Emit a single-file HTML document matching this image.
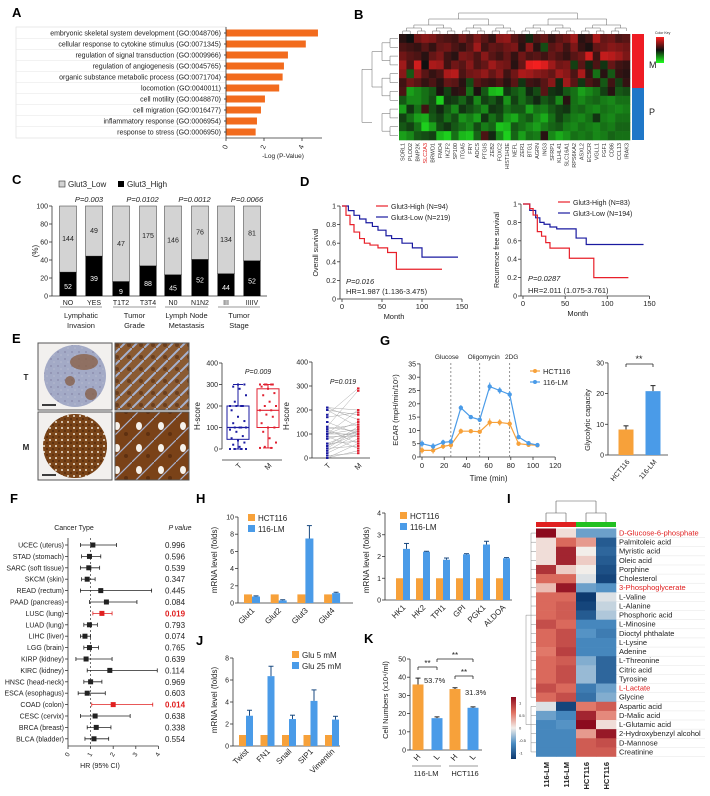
<!DOCTYPE html>
<html><head><meta charset="utf-8">
<style>
html,body{margin:0;padding:0;background:#fff;}
svg{display:block;font-family:"Liberation Sans",Arial,sans-serif;}
</style></head>
<body>
<svg id="fig" width="710" height="796" viewBox="0 0 710 796" xmlns="http://www.w3.org/2000/svg">
<defs>
<pattern id="spotsT" width="7" height="7" patternUnits="userSpaceOnUse"><rect width="7" height="7" fill="#a3aac6"/><circle cx="2" cy="2" r="1" fill="#8e90b0"/><circle cx="5" cy="5" r="0.8" fill="#b6bad0"/></pattern>
<pattern id="spotsM" width="6" height="6" patternUnits="userSpaceOnUse"><rect width="6" height="6" fill="#7a4418"/><circle cx="2" cy="2" r="1" fill="#efe6d8"/><circle cx="5" cy="5" r="1.2" fill="#5e3210"/></pattern>
<pattern id="zoomT" width="12" height="12" patternUnits="userSpaceOnUse"><rect width="12" height="12" fill="#8a5a32"/><path d="M0 12 L12 0" stroke="#a6b2d0" stroke-width="2"/><circle cx="9" cy="9" r="2" fill="#6a3e1e"/></pattern>
<pattern id="zoomM" width="22" height="22" patternUnits="userSpaceOnUse"><rect width="22" height="22" fill="#7a4218"/><path d="M0 22 L22 0" stroke="#a8b0cc" stroke-width="1.2"/><ellipse cx="7" cy="8" rx="3" ry="4" fill="#f6f2ec"/><circle cx="16" cy="16" r="2" fill="#5e3010"/></pattern>
<linearGradient id="keyB" x1="0" y1="1" x2="0" y2="0"><stop offset="0" stop-color="#20ff20"/><stop offset="0.5" stop-color="#101010"/><stop offset="1" stop-color="#ff2020"/></linearGradient>
<linearGradient id="keyI" x1="0" y1="1" x2="0" y2="0"><stop offset="0" stop-color="#0d3a70"/><stop offset="0.25" stop-color="#4a8cc2"/><stop offset="0.5" stop-color="#f2eeea"/><stop offset="0.75" stop-color="#e07060"/><stop offset="1" stop-color="#8c0a1e"/></linearGradient>
</defs>
<g font-weight="bold" font-size="13">
<text x="12" y="17">A</text>
<text x="354" y="19">B</text>
<text x="12" y="184">C</text>
<text x="300" y="186">D</text>
<text x="12" y="343">E</text>
<text x="380" y="345">G</text>
<text x="10" y="503">F</text>
<text x="196" y="503">H</text>
<text x="507" y="503">I</text>
<text x="196" y="645">J</text>
<text x="364" y="643">K</text>
</g>
</svg>
<script>
// ---------- data ----------
const goTerms=["embryonic skeletal system development (GO:0048706)","cellular response to cytokine stimulus (GO:0071345)","regulation of signal transduction (GO:0009966)","regulation of angiogenesis (GO:0045765)","organic substance metabolic process (GO:0071704)","locomotion (GO:0040011)","cell motility (GO:0048870)","cell migration (GO:0016477)","inflammatory response (GO:0006954)","response to stress (GO:0006950)"];
const goValues=[4.84,4.2,3.26,3.05,2.98,2.8,2.05,1.84,1.63,1.56];

const geneNames=["SORL1","PLOD2","BMP2K","SLC2A3","BRWD1","FMO4","IKZF2","SP100","ITGA5","FRY","ADCS","PTGIS","ZEB2","FOXC2","HIST1H3E","NEFL","ZER1","BTG1","AGRN","ING3","SFRP1","KLHL41","SLC16A1","RPS6KA2","ASXL2","ECSCR","VGLL1","FGF1","CD86","CCL13","IRAK3"];
const heatB=[
[0.2,0,0.8,1.0,0.9,0.6,0.5,0.4,0.8,0.5,0.9,0.6,0.3,1.0,1.1,0.6,0.3,-0.2,0.5,0.7,0.3,0.6,0.8,1.2,0.2,0.4,1.3,0.7,0.8,0.5,0.6],
[0.5,0.4,0.3,0.6,0.3,0.7,0.8,0.5,0.3,0.6,1.2,0.4,0.7,0.6,0.8,0.9,0.2,1.0,0.2,-0.5,0.6,0.8,0.4,0.9,0.3,0.1,0.7,0.8,1.0,0.9,0.8],
[0.8,0.6,0.5,0.2,0.7,0.9,0.4,0.2,0.9,0.8,0.5,1.0,0.6,0.4,0.7,0.3,0.8,0.5,0.6,0.4,0.7,0.5,0.3,0.6,0.8,1.6,0.4,1.5,1.4,1.2,0.9],
[1.2,0.5,1.6,0,1.3,1.2,0.4,0.8,0.6,1.0,0.5,0.7,1.2,0.9,0.8,0.2,0.7,1.8,1.9,1.7,1.2,0.8,0.9,-0.4,0.6,-0.2,0.5,-0.3,0.7,0.4,0.3],
[1.0,-0.6,1.1,0.6,0.3,0.5,1.3,1.4,0.5,0.8,0.9,1.1,0.7,1.0,0.4,0.8,1.3,1.2,1.0,0.9,0.7,1.2,1.0,0.5,1.3,0.3,-0.8,0.2,-0.6,0.3,0.2],
[0.4,0.8,0.6,0.3,0.5,0.2,0.7,0.6,0.2,-0.5,0.6,0.4,0.3,0.5,0.2,0.6,-0.3,0.4,0.3,0.6,1.0,-0.2,1.2,0.6,-0.3,0.5,0.3,-0.6,0.4,-0.4,0.3],
[0.5,-1.2,-1.0,-0.8,-0.6,0.1,-0.4,0.2,0.3,-0.8,0.1,-0.6,-1.4,-1.5,-0.3,-0.6,-0.8,-0.2,-0.5,0.6,-0.3,-0.2,-0.6,-0.8,-1.2,-1.0,-0.8,-0.4,0.2,-0.6,-0.5],
[-0.6,-1.0,-1.0,-0.8,-0.5,-1.6,-0.3,-0.4,-0.7,-0.3,-1.0,-0.4,-0.6,-0.3,-1.1,-0.4,-0.8,-0.5,-0.2,-0.6,-0.4,-1.0,0.2,-0.8,-1.0,-0.8,-0.7,-0.9,-1.0,-0.8,-0.8],
[-1.2,-0.3,-0.8,0.4,-0.5,-0.2,-0.6,-1.0,-0.3,-0.5,-0.7,-1.0,-0.3,-0.4,-0.8,-0.6,-0.6,-1.2,-0.8,-0.9,-0.6,-0.4,-0.3,-0.8,-0.7,-0.9,-1.0,-0.8,-0.9,-1.0,-0.9],
[-0.4,-0.8,-1.2,-1.3,-0.6,-0.4,-0.8,-0.5,-1.1,-0.9,-1.2,-0.3,-0.8,-0.5,-1.1,-1.3,-0.8,-0.6,-1.0,-1.3,-0.8,-0.4,-0.7,-0.9,-1.0,-0.8,-0.3,-0.9,-1.0,-0.8,-0.8],
[-0.6,-0.4,-0.8,-1.6,-1.2,-0.5,-0.3,-0.6,-0.8,-1.0,-0.5,-0.9,-0.7,-1.5,-1.4,-0.6,-0.8,-1.0,-1.2,-0.9,-0.7,-0.6,-0.9,-1.0,-0.8,-0.9,-1.0,-0.8,-0.9,-0.7,-0.7],
[-1.2,-1.0,-0.6,-0.5,-0.4,-1.4,-1.6,-0.8,-1.4,-1.5,-0.7,0.5,-0.2,-1.0,-1.6,-0.7,-1.2,-0.8,-0.9,0.2,-1.0,-1.3,-1.1,-0.8,-0.9,-0.8,-1.0,-0.9,-0.7,-0.8,-0.8]];

const cCats=["NO","YES","T1T2","T3T4","N0","N1N2","III","IIIIV"];
const cLow=[144,49,47,175,146,76,134,81];
const cHigh=[52,39,9,88,45,52,44,52];
const cPvals=["P=0.003","P=0.0102","P=0.0012","P=0.0066"];
const cGroups=[["Lymphatic","Invasion"],["Tumor","Grade"],["Lymph Node","Metastasis"],["Tumor","Stage"]];

const os_highT=[0,5,10,15,22,28,35,45,57,68,125];
const os_highS=[1,0.9,0.8,0.72,0.65,0.6,0.58,0.55,0.5,0.32,0.32];
const os_lowT=[0,8,15,22,30,38,45,55,62,75,88,100,145];
const os_lowS=[1,0.95,0.9,0.86,0.82,0.78,0.74,0.68,0.65,0.6,0.55,0.45,0.45];
const rfs_highT=[0,8,12,17,22,27,32,55,84,125];
const rfs_highS=[1,0.95,0.88,0.7,0.65,0.58,0.52,0.41,0.2,0.2];
const rfs_lowT=[0,8,15,20,25,32,40,63,75,143];
const rfs_lowS=[1,0.93,0.85,0.8,0.78,0.75,0.73,0.63,0.56,0.56];

const eTdots=[0,0,0,0,10,20,30,40,50,60,80,90,100,100,100,100,120,130,150,180,200,200,200,200,220,250,280,290,300,300];
const eMdots=[5,5,10,30,50,80,100,100,120,150,160,180,180,200,200,220,250,260,280,290,300,300,300,300,300];
const eTbox=[0,45,100,200,300];
const eMbox=[5,100,180,280,300];
const pairT=[0,0,10,20,30,40,50,50,60,80,90,100,100,100,100,110,120,130,130,150,170,180,200,200,210,210,120,90,60,40];
const pairM=[30,60,20,80,100,50,100,130,70,110,90,150,100,120,200,90,140,110,280,100,190,290,130,180,200,160,60,40,110,120];

const ecarTime=[0,10,19,26,35,44,52,61,70,79,87,96,104];
const ecarHCT=[2.5,2.5,4,4.5,9.7,9.7,9.5,13,13,12.5,5,4.6,4.4];
const ecarLM=[5,4,5.5,5.8,18.5,15,14,26.5,25,23.5,7.5,5.2,4.5];
const ecarErr=[1.2,1.2,1,1,1,0.6,0.8,1.5,1.2,1.2,0.8,0.5,0.5];
const injections=[["Glucose",26],["Oligomycin",52],["2DG",79]];
const gcapLabels=["HCT116","116-LM"];
const gcapValues=[8.3,20.8];
const gcapErr=[1.2,1.8];

const fCancers=["UCEC (uterus)","STAD (stomach)","SARC (soft tissue)","SKCM (skin)","READ (rectum)","PAAD (pancreas)","LUSC (lung)","LUAD (lung)","LIHC (liver)","LGG (brain)","KIRP (kidney)","KIRC (kidney)","HNSC (head-neck)","ESCA (esophagus)","COAD (colon)","CESC (cervix)","BRCA (breast)","BLCA (bladder)"];
const fHR=[1.1,0.95,0.92,0.85,1.45,1.7,1.5,0.95,0.75,0.95,0.8,1.85,1.0,0.85,2.0,1.2,1.25,1.15];
const fLo=[0.55,0.6,0.55,0.6,0.55,0.95,1.1,0.7,0.55,0.7,0.35,0.85,0.7,0.45,1.05,0.55,0.85,0.75];
const fHi=[2.15,1.45,1.4,1.2,3.7,3.05,1.95,1.3,1.0,1.35,1.95,3.95,1.5,1.65,3.75,2.75,1.9,1.8];
const fP=["0.996","0.596","0.539","0.347","0.445","0.084","0.019","0.793","0.074","0.765","0.639","0.114","0.969","0.603","0.014","0.638","0.338","0.554"];

const h1Cats=["Glut1","Glut2","Glut3","Glut4"];
const h1HCT=[1,1,1,1];
const h1LM=[0.75,0.3,7.5,1.15];
const h1Err=[0.08,0.08,1.5,0.1];
const h2Cats=["HK1","HK2","TPI1","GPI","PGK1","ALDOA"];
const h2HCT=[1,1,1,1,1,1];
const h2LM=[2.35,2.22,1.85,2.1,2.55,1.92];
const h2Err=[0.25,0.02,0.08,0.03,0.15,0.03];

const jCats=["Twist","FN1","Snail","SIP1","Vimentin"];
const j5=[1,1,1,1,1];
const j25=[2.75,6.35,2.45,4.1,2.4];
const jErr=[0.5,0.9,0.35,1.0,0.3];

const kCats=["H","L","H","L"];
const kValues=[36,17.5,33.5,23.2];
const kErr=[3.5,0.7,0.7,0.5];

const iMetab=["D-Glucose-6-phosphate","Palmitoleic acid","Myristic acid","Oleic acid","Porphine","Cholesterol","3-Phosphoglycerate","L-Valine","L-Alanine","Phosphoric acid","L-Minosine","Dioctyl phthalate","L-Lysine","Adenine","L-Threonine","Citric acid","Tyrosine","L-Lactate","Glycine","Aspartic acid","D-Malic acid","L-Glutamic acid","2-Hydroxybenzyl alcohol","D-Mannose","Creatinine"];
const iRed=["D-Glucose-6-phosphate","3-Phosphoglycerate","L-Lactate"];
const iSamples=["116-LM","116-LM","HCT116","HCT116"];
const iValues=[[1.5,0.1,-0.6,-0.6],[0.1,0.8,0.5,-1.2],[0.1,1.3,0,-1.1],[0.1,1.3,0.2,-1.2],[1.2,0.2,0,-1.3],[0.8,0.8,-0.1,-1.4],[0.3,1.4,-0.6,-0.7],[0.8,0.8,-1.5,-0.1],[0.8,0.9,-1.4,-0.2],[0.8,0.9,-1.2,-0.3],[1.0,0.8,-0.8,-0.8],[0.8,1.0,-0.7,-0.9],[0.8,1.0,-0.8,-0.8],[0.7,1.1,-0.8,-0.8],[0.8,0.9,-0.5,-1.1],[0.8,1.0,-0.4,-1.1],[0.8,1.0,-0.4,-1.1],[1.0,0.8,-0.9,-0.6],[0.8,1.0,-1.0,-0.5],[-0.1,-1.4,0.7,0.9],[-0.6,-0.8,1.3,0.6],[-0.8,-0.7,1.5,0.1],[-0.8,-0.8,0.5,1.4],[-0.8,-0.8,0.9,1.0],[-0.8,-0.8,0.9,0.9]];

// ---------- helpers ----------
const svg=document.getElementById('fig');
const NS='http://www.w3.org/2000/svg';
const ORG='#f7a13a', BLU='#4a9be8';
function el(tag,attrs,name){const e=document.createElementNS(NS,tag);for(const k in attrs)e.setAttribute(k,attrs[k]);


svg.appendChild(e);return e;}
function tx(x,y,s,size,anchor,name,extra){const a=Object.assign({x:x,y:y,'font-size':size,'text-anchor':anchor||'start',fill:'#222'},extra||{});const e=el('text',a,name);e.textContent=s;return e;}
function ln(x1,y1,x2,y2,name,stroke,w,dash){const a={x1:x1,y1:y1,x2:x2,y2:y2,stroke:stroke||'#333','stroke-width':w||0.8};if(dash)a['stroke-dasharray']=dash;return el('line',a,name);}
function rc(x,y,w,h,fill,name,extra){return el('rect',Object.assign({x:x,y:y,width:w,height:Math.max(0,h),fill:fill},extra||{}),name);}
function rot(x,y,s,size,deg,anchor,name,extra){return tx(x,y,s,size,anchor,name,Object.assign({transform:`rotate(${deg} ${x} ${y})`},extra||{}));}
function yAxis(x,yf,ticks,name,size){ln(x,yf(ticks[0]),x,yf(ticks[ticks.length-1]),name+'-line');ticks.forEach(t=>{ln(x-3,yf(t),x,yf(t),name+'-tick');tx(x-4,yf(t)+2.5,String(t),size||7,'end',name+'-tick-label');});}
function errBar(x,y1,y2,name,color){ln(x,y1,x,y2,name,color||'#222',1);ln(x-2.5,y2,x+2.5,y2,name+'-cap',color||'#222',1);}
function mix(a,b,t){return a.map((v,i)=>Math.round(v+(b[i]-v)*t));}

// ---------- Panel A ----------
(function(){const x0=226,k=19,y0=33,st=11;const xA=v=>x0+v*k;
rc(16,27,x0-16,111,'none','go-label-box',{stroke:'#ddd','stroke-width':0.6});
goTerms.forEach((t,i)=>{const y=y0+i*st;
if(i>0)ln(16,y-5.5,x0,y-5.5,'go-row-grid','#e6e6e6',0.5);
tx(x0-5,y+2.5,t,7,'end','go-term-label');
ln(x0-2,y,x0,y,'go-tick');
rc(x0,y-3.5,xA(goValues[i])-x0,7,'#f26b1d','go-bar');});
ln(x0,27,x0,138,'go-y-axis');ln(x0,138,322,138,'go-x-axis');
[0,2,4].forEach(t=>{ln(xA(t),138,xA(t),141,'go-x-tick');rot(xA(t)+2,146,String(t),7,-70,'end','go-x-tick-label');});
tx(283,158,'-Log (P-Value)',6.5,'middle','go-x-axis-title');})();

// ---------- Panel B ----------
(function(){const x0=399,y0=34,cw=231/geneNames.length,rh=106/heatB.length;
function col(v){v=Math.max(-2,Math.min(2,v));if(v>=0){const t=v/2;return `rgb(${Math.round(16+239*t)},${Math.round(16*(1-t)+32*t)},${Math.round(16*(1-t)+32*t)})`;}const t=-v/2;return `rgb(${Math.round(16+16*t)},${Math.round(16+239*t)},${Math.round(16+16*t)})`;}
heatB.forEach((row,r)=>row.forEach((v,c)=>{rc(x0+c*cw,y0+r*rh,cw+0.3,rh+0.3,col(v),'gene-heat-cell');}));
geneNames.forEach((g,c)=>{const x=x0+c*cw+cw/2+2;rot(x,143,g,5.5,-90,'end','gene-label',{fill:g==='SLC2A3'?'#e02020':'#333'});});
rc(632,34,12,54,'#ee1c24','group-bar-m');rc(632,88,12,52,'#1f77c8','group-bar-p');
tx(649,68,'M',9,'start','group-label-m');tx(649,115,'P',9,'start','group-label-p');
rc(656,37,8,26,'url(#keyB)','color-key-b');tx(655,34,'Color Key',3.5,'start','color-key-title');
let pos=geneNames.map((g,c)=>x0+c*cw+cw/2),h=34;
while(pos.length>1){const nxt=[];const nh=h-(pos.length>4?3:6);for(let i=0;i<pos.length;i+=2){if(i+1<pos.length){ln(pos[i],h,pos[i],nh,'gene-dendrogram','#666',0.5);ln(pos[i+1],h,pos[i+1],nh,'gene-dendrogram','#666',0.5);ln(pos[i],nh,pos[i+1],nh,'gene-dendrogram','#666',0.5);nxt.push((pos[i]+pos[i+1])/2);}else nxt.push(pos[i]);}pos=nxt;h=nh;}
let rp=heatB.map((r,i)=>y0+i*rh+rh/2),hx=398;
while(rp.length>1){const nxt=[];const nx=hx-(rp.length>3?8:10);for(let i=0;i<rp.length;i+=2){if(i+1<rp.length){ln(hx,rp[i],nx,rp[i],'sample-dendrogram','#666',0.5);ln(hx,rp[i+1],nx,rp[i+1],'sample-dendrogram','#666',0.5);ln(nx,rp[i],nx,rp[i+1],'sample-dendrogram','#666',0.5);nxt.push((rp[i]+rp[i+1])/2);}else nxt.push(rp[i]);}rp=nxt;hx=nx;}})();

// ---------- Panel C ----------
(function(){const yf=v=>296-v*0.9,bw=17;const cx=[68,94,121,148,173,200,226,252];
rc(59,181,6,6,'#d3d3d3','legend-swatch-low',{stroke:'#333','stroke-width':0.6});tx(68,187,'Glut3_Low',8,'start','legend-low');
rc(118,181,6,6,'#000','legend-swatch-high');tx(127,187,'Glut3_High',8,'start','legend-high');
yAxis(52,yf,[0,20,40,60,80,100],'c-y-axis',7);
rot(38,251,'(%)',8,-90,'middle','c-y-axis-title');
ln(52,296,267,296,'c-x-axis');
cCats.forEach((c,i)=>{const tot=cLow[i]+cHigh[i],p=cHigh[i]/tot*100;
rc(cx[i]-bw/2,yf(100),bw,yf(p)-yf(100),'#d3d3d3','bar-low',{stroke:'#333','stroke-width':0.5});
rc(cx[i]-bw/2,yf(p),bw,yf(0)-yf(p),'#000','bar-high');
tx(cx[i],yf(100)-(yf(100)-yf(p))/2+2,String(cLow[i]),7,'middle','count-low');
tx(cx[i],yf(p/2)+5,String(cHigh[i]),7,'middle','count-high',{fill:'#fff'});
tx(cx[i],305,c,7,'middle','c-category-label');});
cGroups.forEach((g,j)=>{const m=(cx[2*j]+cx[2*j+1])/2;ln(cx[2*j]-8,307,cx[2*j+1]+8,307,'c-group-underline','#333',0.6);
tx(m,318,g[0],7.5,'middle','c-group-label');tx(m,328,g[1],7.5,'middle','c-group-label');
tx(m+8,202,cPvals[j],7.5,'middle','c-p-value',{'font-style':'italic'});});})();

// ---------- Panel D ----------
function km(x0,xk,y0,yk,T,S,color,name){let d=`M${x0+T[0]*xk},${y0-S[0]*yk}`;for(let i=1;i<T.length;i++){d+=` H${x0+T[i]*xk} V${y0-S[i]*yk}`;}el('path',{d:d,fill:'none',stroke:color,'stroke-width':1.2},name);}
function kmAxes(x0,xk,y0,yk,title,name){yAxis(x0-2,v=>y0-v*yk,[0,0.2,0.4,0.6,0.8,1],name+'-y',7);
ln(x0-2,y0,x0+150*xk,y0,name+'-x-axis');[0,50,100,150].forEach(t=>{ln(x0+t*xk,y0,x0+t*xk,y0+3,name+'-x-tick');tx(x0+t*xk,y0+10,String(t),7.5,'middle',name+'-x-tick-label');});
tx(x0+65*xk,y0+20,'Month',7.5,'middle',name+'-x-title');rot(x0-24,y0-0.5*yk,title,7,-90,'middle',name+'-y-title');}
(function(){const x0=342,xk=0.8,y0=299,yk=93;kmAxes(x0,xk,y0,yk,'Overall survival','os');
km(x0,xk,y0,yk,os_lowT,os_lowS,'#1a1aa0','os-curve-low');km(x0,xk,y0,yk,os_highT,os_highS,'#e8202a','os-curve-high');
ln(376,206,388,206,'os-legend-high-line','#e8202a',1.2);tx(391,209,'Glut3-High (N=94)',7,'start','os-legend-high');
ln(376,217,388,217,'os-legend-low-line','#1a1aa0',1.2);tx(391,220,'Glut3-Low (N=219)',7,'start','os-legend-low');
tx(346,284,'P=0.016',7.5,'start','os-p-value',{'font-style':'italic'});tx(346,294,'HR=1.987 (1.136-3.475)',7.5,'start','os-hr');})();
(function(){const x0=523,xk=0.843,y0=296,yk=92;kmAxes(x0,xk,y0,yk,'Recurrence free survival','rfs');
km(x0,xk,y0,yk,rfs_lowT,rfs_lowS,'#1a1aa0','rfs-curve-low');km(x0,xk,y0,yk,rfs_highT,rfs_highS,'#e8202a','rfs-curve-high');
ln(558,202,570,202,'rfs-legend-high-line','#e8202a',1.2);tx(573,205,'Glut3-High (N=83)',7,'start','rfs-legend-high');
ln(558,213,570,213,'rfs-legend-low-line','#1a1aa0',1.2);tx(573,216,'Glut3-Low (N=194)',7,'start','rfs-legend-low');
tx(528,281,'P=0.0287',7.5,'start','rfs-p-value',{'font-style':'italic'});tx(528,293,'HR=2.011 (1.075-3.761)',7.5,'start','rfs-hr');})();

// ---------- Panel E ----------
(function(){
rc(38,343,74,67,'#f2f0ee','ihc-t-core-frame',{stroke:'#555','stroke-width':1});el('circle',{cx:75,cy:376,r:31,fill:'url(#spotsT)'},'ihc-t-core');
el('ellipse',{cx:84,cy:362,rx:14,ry:8,fill:'#8a6248',opacity:0.8},'ihc-t-stain-patch');el('circle',{cx:70,cy:381,r:5,fill:'#86604a',opacity:0.8},'ihc-t-stain-patch');el('circle',{cx:91,cy:394,r:6,fill:'#86604a',opacity:0.8},'ihc-t-stain-patch');
rc(115,343,74,67,'url(#zoomT)','ihc-t-zoom',{stroke:'#555','stroke-width':1});
rc(38,412,74,68,'#f2f0ee','ihc-m-core-frame',{stroke:'#555','stroke-width':1});el('circle',{cx:75,cy:446,r:32,fill:'url(#spotsM)'},'ihc-m-core');
rc(115,412,74,68,'url(#zoomM)','ihc-m-zoom',{stroke:'#555','stroke-width':1});
ln(42,405,56,405,'scale-bar-t','#000',1.5);ln(42,475,56,475,'scale-bar-m','#000',1.5);
tx(26,380,'T',8,'middle','row-label-t',{'font-weight':'bold'});tx(26,450,'M',8,'middle','row-label-m',{'font-weight':'bold'});
const yb=v=>449-v*0.215;yAxis(222,yb,[0,100,200,300,400],'e-box-y',7);rot(200,416,'H-score',8,-90,'middle','e-box-y-title');
[[238,eTbox,eTdots,'#1a1aa0','t'],[268,eMbox,eMdots,'#e02030','m']].forEach(([cx,b,d,c,n])=>{
ln(cx,yb(b[0]),cx,yb(b[1]),'box-whisker-'+n,c,1);ln(cx,yb(b[3]),cx,yb(b[4]),'box-whisker-'+n,c,1);
ln(cx-5,yb(b[0]),cx+5,yb(b[0]),'box-cap-'+n,c,1);ln(cx-5,yb(b[4]),cx+5,yb(b[4]),'box-cap-'+n,c,1);
rc(cx-11,yb(b[3]),22,yb(b[1])-yb(b[3]),'none','box-'+n,{stroke:c,'stroke-width':1});ln(cx-11,yb(b[2]),cx+11,yb(b[2]),'box-median-'+n,c,1.2);
d.forEach((v,i)=>{rc(cx+((i*7)%11-5)*1.6-1,yb(v)-1,2,2,c,'dot-'+n);});});
ln(222,460,282,460,'e-box-x-axis');rot(242,466,'T',7.5,-45,'end','e-box-x-label-t');rot(272,466,'M',7.5,-45,'end','e-box-x-label-m');
tx(258,374,'P=0.009',7,'middle','e-box-p-value',{'font-style':'italic'});
const yp=v=>458-v*0.24;yAxis(312,yp,[0,100,200,300,400],'e-pair-y',7);rot(289,416,'H-score',8,-90,'middle','e-pair-y-title');
ln(312,458,370,458,'e-pair-x-axis');
pairT.forEach((v,i)=>{ln(327,yp(v),358,yp(pairM[i]),'pair-line','#aaa',0.5);});
pairT.forEach(v=>rc(326,yp(v)-1,2.5,2,'#1a1aa0','pair-dot-t'));pairM.forEach(v=>rc(357,yp(v)-1,2.5,2,'#e02030','pair-dot-m'));
rot(331,466,'T',7.5,-45,'end','e-pair-x-label-t');rot(362,466,'M',7.5,-45,'end','e-pair-x-label-m');
tx(343,384,'P=0.019',7,'middle','e-pair-p-value',{'font-style':'italic'});})();

// ---------- Panel G ----------
(function(){const xf=t=>422+t*1.11,yf=v=>457-v*2.66;
yAxis(420,yf,[0,5,10,15,20,25,30,35],'ecar-y',7);ln(420,457,xf(120),457,'ecar-x-axis');
[0,20,40,60,80,100,120].forEach(t=>{ln(xf(t),457,xf(t),460,'ecar-x-tick');tx(xf(t),468,String(t),7.5,'middle','ecar-x-tick-label');});
tx(xf(60),481,'Time (min)',8,'middle','ecar-x-title');rot(398,410,'ECAR (mpH/min/10\u2075)',7.5,-90,'middle','ecar-y-title');
const lx=[-4,4,2];
injections.forEach(([n,t],i)=>{ln(xf(t),363,xf(t),457,'injection-line','#666',0.7,'2,2');tx(xf(t)+lx[i],359,n,6.5,'middle','injection-label');});
[[ecarHCT,ORG,'hct116'],[ecarLM,BLU,'lm']].forEach(([arr,c,n])=>{el('polyline',{points:ecarTime.map((t,i)=>xf(t)+','+yf(arr[i])).join(' '),fill:'none',stroke:c,'stroke-width':1.2},'ecar-line-'+n);
ecarTime.forEach((t,i)=>{ln(xf(t),yf(arr[i]-ecarErr[i]),xf(t),yf(arr[i]+ecarErr[i]),'ecar-error-'+n,c,1);el('circle',{cx:xf(t),cy:yf(arr[i]),r:2.2,fill:c},'ecar-point-'+n);});});
ln(530,371,540,371,'ecar-legend-hct-line',ORG,1.2);el('circle',{cx:535,cy:371,r:2,fill:ORG},'ecar-legend-hct-marker');tx(543,374,'HCT116',7.5,'start','ecar-legend-hct');
ln(530,382,540,382,'ecar-legend-lm-line',BLU,1.2);el('circle',{cx:535,cy:382,r:2,fill:BLU},'ecar-legend-lm-marker');tx(543,385,'116-LM',7.5,'start','ecar-legend-lm');
const yg=v=>455-v*3.07;yAxis(608,yg,[0,10,20,30],'gcap-y',7);ln(608,455,668,455,'gcap-x-axis');rot(590,420,'Glycolytic capacity',7.5,-90,'middle','gcap-y-title');
const gx=[626,653];gcapValues.forEach((v,i)=>{rc(gx[i]-7.5,yg(v),15,yg(0)-yg(v),i?BLU:ORG,'gcap-bar');errBar(gx[i],yg(v),yg(v+gcapErr[i]),'gcap-error');rot(gx[i]+4,462,gcapLabels[i],7,-50,'end','gcap-x-label');});
ln(626,364,653,364,'gcap-sig-bracket','#222',0.8);ln(626,364,626,367,'gcap-sig-bracket','#222',0.8);ln(653,364,653,367,'gcap-sig-bracket','#222',0.8);tx(639,362,'**',9,'middle','gcap-sig');})();

// ---------- Panel F ----------
(function(){const xf=v=>68+v*22.6,y0=545,st=11.4;
tx(74,530,'Cancer Type',7,'middle','f-header-cancer');tx(180,530,'P value',7,'middle','f-header-p',{'font-style':'italic'});
ln(68,538,68,746,'f-y-axis');ln(68,746,xf(4),746,'f-x-axis');ln(xf(1),538,xf(1),746,'f-reference-line','#333',0.7,'2,2');
[0,1,2,3,4].forEach(t=>{ln(xf(t),746,xf(t),749,'f-x-tick');rot(xf(t)+2,754,String(t),6.5,-60,'end','f-x-tick-label');});
tx(100,768,'HR (95% CI)',7,'middle','f-x-title');
fCancers.forEach((c,i)=>{const y=y0+i*st,red=fP[i]==='0.019'||fP[i]==='0.014',col=red?'#e02020':'#222';
ln(65,y,68,y,'f-row-tick');tx(64,y+2.5,c,7,'end','f-cancer-label');
ln(xf(fLo[i]),y,xf(fHi[i]),y,'f-ci-line',col,0.8);ln(xf(fLo[i]),y-2,xf(fLo[i]),y+2,'f-ci-cap',col,0.8);ln(xf(fHi[i]),y-2,xf(fHi[i]),y+2,'f-ci-cap',col,0.8);
rc(xf(fHR[i])-2.5,y-2.5,5,5,col,'f-hr-point');
tx(165,y+3,fP[i],8,'start','f-p-value',{fill:red?'#e02020':'#222','font-weight':red?'bold':'normal'});});})();

// ---------- Panel H ----------
function groupedBars(cats,a,b,err,yf,cx0,gsp,bw,axX,axEnd,ticks,name,labY){
yAxis(axX,yf,ticks,name+'-y',7);ln(axX,yf(0),axEnd,yf(0),name+'-x-axis');
cats.forEach((c,i)=>{const cx=cx0+i*gsp;rc(cx-bw,yf(a[i]),bw,yf(0)-yf(a[i]),ORG,name+'-bar-orange');rc(cx,yf(b[i]),bw,yf(0)-yf(b[i]),BLU,name+'-bar-blue');
errBar(cx+bw/2,yf(b[i]),yf(b[i]+err[i]),name+'-error','#1a4a80');rot(cx+3,labY,c,8,-45,'end',name+'-x-label');});}
(function(){const yf=v=>603-v*8.6;groupedBars(h1Cats,h1HCT,h1LM,h1Err,yf,252,26.7,8,238,353,[0,2,4,6,8,10],'h-glut',611);
rot(217,560,'mRNA level (folds)',8,-90,'middle','h-glut-y-title');
rc(248,514,7,7,ORG,'h-legend-swatch-hct');tx(258,521,'HCT116',8,'start','h-legend-hct');rc(248,525,7,7,BLU,'h-legend-swatch-lm');tx(258,532,'116-LM',8,'start','h-legend-lm');
const y2=v=>600-v*21.75;groupedBars(h2Cats,h2HCT,h2LM,h2Err,y2,403,20,7,385,512,[0,1,2,3,4],'h-enzyme',608);
rot(369,560,'mRNA level (folds)',8,-90,'middle','h-enzyme-y-title');
rc(400,512,7,7,ORG,'h2-legend-swatch-hct');tx(410,519,'HCT116',8,'start','h2-legend-hct');rc(400,523,7,7,BLU,'h2-legend-swatch-lm');tx(410,530,'116-LM',8,'start','h2-legend-lm');})();

// ---------- Panel J ----------
(function(){const yf=v=>746-v*11;groupedBars(jCats,j5,j25,jErr,yf,246,21.5,7,233,340,[0,2,4,6,8],'j',752);
rot(217,700,'mRNA level (folds)',8,-90,'middle','j-y-title');
rc(292,651,7,7,ORG,'j-legend-swatch-5');tx(302,658,'Glu 5 mM',8,'start','j-legend-5');rc(292,662,7,7,BLU,'j-legend-swatch-25');tx(302,669,'Glu 25 mM',8,'start','j-legend-25');})();

// ---------- Panel K ----------
(function(){const yf=v=>750-v*1.82,cx=[418,437,455,473];
yAxis(410,yf,[0,10,20,30,40,50],'k-y',7);ln(410,750,482,750,'k-x-axis');rot(388,700,'Cell Numbers (x10\u2074/ml)',7.5,-90,'middle','k-y-title');
kValues.forEach((v,i)=>{rc(cx[i]-5.5,yf(v),11,yf(0)-yf(v),i%2?BLU:ORG,'k-bar');errBar(cx[i],yf(v),yf(v+kErr[i]),'k-error');rot(cx[i]+3,757,kCats[i],8,-50,'end','k-x-label');});
ln(412,766,441,766,'k-group-line','#333',0.6);ln(449,766,478,766,'k-group-line','#333',0.6);
tx(426,776,'116-LM',7.5,'middle','k-group-label');tx(465,776,'HCT116',7.5,'middle','k-group-label');
function br(x1,x2,y,name){ln(x1,y,x2,y,name,'#222',0.8);ln(x1,y,x1,y+3,name,'#222',0.8);ln(x2,y,x2,y+3,name,'#222',0.8);tx((x1+x2)/2,y-1,'**',8,'middle',name+'-stars');}
br(418,437,667,'k-sig-lm');br(437,473,659,'k-sig-between');br(455,473,676,'k-sig-hct');
tx(424,683,'53.7%',7.5,'start','k-percent-lm');tx(465,695,'31.3%',7.5,'start','k-percent-hct');})();

// ---------- Panel I ----------
(function(){const x0=536,cw=20,y0=528.5,rh=9.12;
const stops=[[-1.5,[13,58,112]],[-0.75,[74,140,194]],[0,[242,238,234]],[0.75,[224,112,96]],[1.5,[140,10,30]]];
function col(v){v=Math.max(-1.5,Math.min(1.5,v));for(let i=0;i<4;i++){if(v<=stops[i+1][0]){const t=(v-stops[i][0])/(stops[i+1][0]-stops[i][0]);const c=mix(stops[i][1],stops[i+1][1],t);return `rgb(${c[0]},${c[1]},${c[2]})`;}}return 'rgb(140,10,30)';}
iValues.forEach((row,r)=>{const y=y0+r*rh;ln(x0+80,y+rh,705,y+rh,'metabolite-separator','#e4e4e4',0.5);
row.forEach((v,c)=>rc(x0+c*cw,y,cw+0.3,rh+0.3,col(v),'metabolite-heat-cell'));
tx(619,y+7,iMetab[r],7.5,'start','metabolite-label',{fill:iRed.includes(iMetab[r])?'#e02020':'#222'});});
rc(x0,522,40,5,'#e02020','group-bar-116lm');rc(x0+40,522,40,5,'#22c022','group-bar-hct116');
iSamples.forEach((s,c)=>rot(x0+c*cw+13,762,s,7.5,-90,'end','sample-label',{'font-weight':'bold'}));
ln(546,522,546,513,'sample-dendrogram','#555',0.6);ln(566,522,566,513,'sample-dendrogram','#555',0.6);ln(546,513,566,513,'sample-dendrogram','#555',0.6);
ln(586,522,586,513,'sample-dendrogram','#555',0.6);ln(606,522,606,513,'sample-dendrogram','#555',0.6);ln(586,513,606,513,'sample-dendrogram','#555',0.6);
ln(556,513,556,501,'sample-dendrogram','#555',0.6);ln(596,513,596,501,'sample-dendrogram','#555',0.6);ln(556,501,596,501,'sample-dendrogram','#555',0.6);
const yc=r=>y0+r*rh+rh/2;
ln(531,yc(0),531,yc(18),'metabolite-dendrogram','#888',0.5);ln(531,yc(19),531,yc(24),'metabolite-dendrogram','#888',0.5);
iMetab.forEach((m,r)=>ln(531,yc(r),536,yc(r),'metabolite-dendrogram','#888',0.5));
ln(526,yc(9),531,yc(9),'metabolite-dendrogram','#888',0.5);ln(526,yc(21),531,yc(21),'metabolite-dendrogram','#888',0.5);ln(526,yc(9),526,yc(21),'metabolite-dendrogram','#888',0.5);
rc(511,697,5,62,'url(#keyI)','metabolite-color-key');
[[1,'1'],[0.5,'0.5'],[0,'0'],[-0.5,'-0.5'],[-1,'-1']].forEach(([v,s])=>tx(519,728-v*25+1.5,s,4,'start','color-key-tick'));})();
</script>
</body></html>
